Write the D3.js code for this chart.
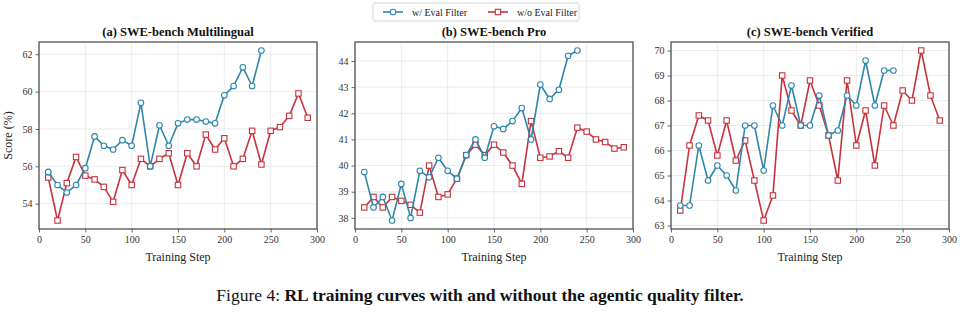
<!DOCTYPE html>
<html><head><meta charset="utf-8">
<script src="https://cdn.jsdelivr.net/npm/d3@7"></script>
<style>body{margin:0;background:#fff}svg{display:block}</style>
</head><body><svg id="c" width="960" height="318"></svg>
<script>
const stepsWith = [10,20,30,40,50,60,70,80,90,100,110,120,130,140,150,160,170,180,190,200,210,220,230,240];
const stepsWithout = [10,20,30,40,50,60,70,80,90,100,110,120,130,140,150,160,170,180,190,200,210,220,230,240,250,260,270,280,290];
const multiWith = [55.7,55.0,54.6,55.0,55.9,57.6,57.1,56.9,57.4,57.1,59.4,56.0,58.2,57.1,58.3,58.5,58.5,58.4,58.3,59.8,60.3,61.3,60.3,62.2];
const multiWithout = [55.4,53.1,55.1,56.5,55.5,55.3,54.9,54.1,55.8,55.0,56.4,56.0,56.4,56.7,55.0,56.7,56.0,57.7,56.9,57.5,56.0,56.4,57.9,56.1,57.9,58.1,58.7,59.9,58.6];
const proWith = [39.75,38.4,38.8,37.9,39.3,38.0,39.8,39.55,40.3,39.8,39.5,40.4,41.0,40.3,41.5,41.4,41.7,42.2,41.0,43.1,42.55,42.9,44.2,44.4];
const proWithout = [38.4,38.8,38.4,38.8,38.65,38.5,38.2,40.0,38.8,38.9,39.5,40.4,40.8,40.4,40.8,40.5,40.0,39.3,41.7,40.3,40.35,40.55,40.3,41.45,41.3,41.0,40.9,40.65,40.7];
const verWith = [63.8,63.8,66.2,64.8,65.4,65.0,64.4,67.0,67.0,65.2,67.8,67.0,68.6,67.0,67.0,68.2,66.6,66.8,68.2,67.8,69.6,67.8,69.2,69.2];
const verWithout = [63.6,66.2,67.4,67.2,65.8,67.2,65.6,66.4,64.8,63.2,64.2,69.0,67.6,67.0,68.8,67.8,66.6,64.8,68.8,66.2,67.6,65.4,67.8,67.0,68.4,68.0,70.0,68.2,67.2];
const titles = ["(a) SWE-bench Multilingual","(b) SWE-bench Pro","(c) SWE-bench Verified"];
const xTicks = [0,50,100,150,200,250,300];
const yTicksMulti = [54,56,58,60,62];
const yTicksPro = [38,39,40,41,42,43,44];
const yTicksVer = [63,64,65,66,67,68,69,70];
const seriesNames = ["w/ Eval Filter","w/o Eval Filter"];

const panels = [
  {title:titles[0], w:multiWith, wo:multiWithout, yt:yTicksMulti},
  {title:titles[1], w:proWith, wo:proWithout, yt:yTicksPro},
  {title:titles[2], w:verWith, wo:verWithout, yt:yTicksVer}
];
const BLUE = "#2E86AB", RED = "#C8323C";
const FONT = "'Liberation Serif','Times New Roman',serif";
const svg = d3.select("#c");
const lefts = [39,355,671], PW = 278, TOP = 42, PH = 187;

panels.forEach((p,i)=>{
  const g = svg.append("g").attr("transform",`translate(${lefts[i]},${TOP})`);
  const all = p.w.concat(p.wo);
  const mn = d3.min(all), mx = d3.max(all), m = (mx-mn)*0.05;
  const x = d3.scaleLinear().domain([0,300]).range([0,PW]);
  const y = d3.scaleLinear().domain([mn-m, mx+m]).range([PH,0]);
  // grid
  g.append("g").selectAll("line.v").data(xTicks).join("line")
    .attr("x1",d=>x(d)).attr("x2",d=>x(d)).attr("y1",0).attr("y2",PH)
    .attr("stroke","#e6e6e6").attr("stroke-width",0.8);
  g.append("g").selectAll("line.h").data(p.yt).join("line")
    .attr("y1",d=>y(d)).attr("y2",d=>y(d)).attr("x1",0).attr("x2",PW)
    .attr("stroke","#e6e6e6").attr("stroke-width",0.8);
  // axes
  const ax = g.append("g").attr("transform",`translate(0,${PH})`)
    .call(d3.axisBottom(x).tickValues(xTicks).tickSize(3.5).tickPadding(3).tickFormat(d3.format("d")));
  const ay = g.append("g")
    .call(d3.axisLeft(y).tickValues(p.yt).tickSize(3.5).tickPadding(3).tickFormat(d3.format("d")));
  [ax,ay].forEach(a=>{
    a.select(".domain").remove();
    a.selectAll("line").attr("stroke","#444").attr("stroke-width",0.8);
    a.selectAll("text").attr("font-family",FONT).attr("font-size",10).attr("fill","#333");
  });
  // frame
  g.append("rect").attr("x",0).attr("y",0).attr("width",PW).attr("height",PH)
    .attr("fill","none").attr("stroke","#444").attr("stroke-width",1.2);
  // series
  const line = d3.line().x(d=>x(d[0])).y(d=>y(d[1]));
  const dw = stepsWith.map((s,k)=>[s,p.w[k]]);
  const dwo = stepsWithout.map((s,k)=>[s,p.wo[k]]);
  const drawSeries = (data,color,shape)=>{
    g.append("path").datum(data).attr("d",line).attr("fill","none")
      .attr("stroke",color).attr("stroke-width",1.6).attr("stroke-linejoin","round");
    if(shape==="circle"){
      g.append("g").selectAll("circle").data(data).join("circle")
        .attr("cx",d=>x(d[0])).attr("cy",d=>y(d[1])).attr("r",2.8)
        .attr("fill","#fff").attr("stroke",color).attr("stroke-width",1.1);
    } else {
      g.append("g").selectAll("rect").data(data).join("rect")
        .attr("x",d=>x(d[0])-2.7).attr("y",d=>y(d[1])-2.7).attr("width",5.4).attr("height",5.4)
        .attr("fill","#fff").attr("stroke",color).attr("stroke-width",1.1);
    }
  };
  drawSeries(dwo,RED,"square");
  drawSeries(dw,BLUE,"circle");
  // title
  g.append("text").attr("x",PW/2).attr("y",-6).attr("text-anchor","middle")
    .attr("font-family",FONT).attr("font-weight","bold").attr("font-size",12.5).attr("fill","#111")
    .text(p.title);
  // x label
  g.append("text").attr("x",PW/2).attr("y",PH+32).attr("text-anchor","middle")
    .attr("font-family",FONT).attr("font-size",12).attr("fill","#222").text("Training Step");
  if(i===0){
    g.append("text").attr("transform",`translate(-27,${PH/2}) rotate(-90)`).attr("text-anchor","middle")
      .attr("font-family",FONT).attr("font-size",12).attr("fill","#222").text("Score (%)");
  }
});

// legend
const lg = svg.append("g");
lg.append("rect").attr("x",373).attr("y",3).attr("width",206).attr("height",18)
  .attr("fill","#fff").attr("stroke","#ccc").attr("stroke-width",0.8).attr("rx",2);
[[BLUE,"circle",383,seriesNames[0]],[RED,"square",488,seriesNames[1]]].forEach(([c,s,x0,t])=>{
  lg.append("line").attr("x1",x0).attr("x2",x0+20).attr("y1",12).attr("y2",12).attr("stroke",c).attr("stroke-width",1.6);
  if(s==="circle") lg.append("circle").attr("cx",x0+10).attr("cy",12).attr("r",2.8).attr("fill","#fff").attr("stroke",c).attr("stroke-width",1.1);
  else lg.append("rect").attr("x",x0+7.3).attr("y",9.3).attr("width",5.4).attr("height",5.4).attr("fill","#fff").attr("stroke",c).attr("stroke-width",1.1);
  lg.append("text").attr("x",x0+29).attr("y",15.5).attr("font-family",FONT).attr("font-size",10).attr("fill","#222").text(t);
});

// caption
const cap = svg.append("text").attr("x",480).attr("y",301).attr("text-anchor","middle")
  .attr("font-family","'Liberation Serif',serif").attr("font-size",17.5).attr("fill","#111");
cap.append("tspan").text("Figure 4: ");
cap.append("tspan").attr("font-weight","bold").text("RL training curves with and without the agentic quality filter.");
</script></body></html>
